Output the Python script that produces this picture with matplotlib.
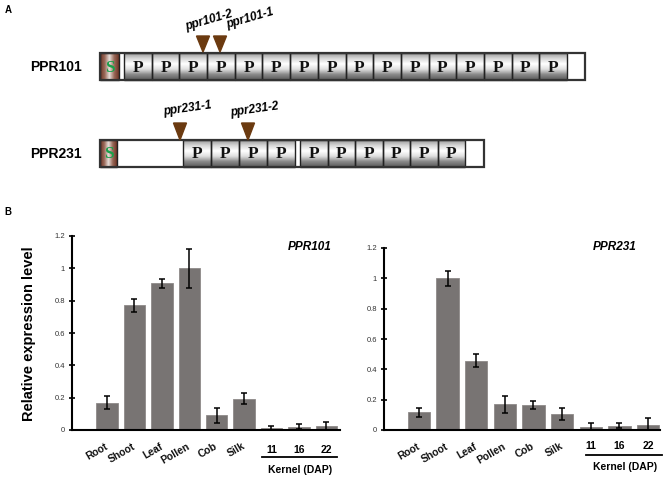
import numpy as np
import matplotlib
matplotlib.use("Agg")
import matplotlib.pyplot as plt
from matplotlib.patches import Rectangle, Polygon
from matplotlib.colors import LinearSegmentedColormap

plt.rcParams['font.family'] = ['Liberation Sans', 'DejaVu Sans']

# ---------------- data ----------------
tissues = ['Root', 'Shoot', 'Leaf', 'Pollen', 'Cob', 'Silk']
kernel_dap = ['11', '16', '22']

ppr101_mean = [0.17, 0.772, 0.909, 1.0, 0.090, 0.194, 0.012, 0.020, 0.026]
ppr101_err = [0.040, 0.040, 0.028, 0.120, 0.045, 0.033, 0.012, 0.015, 0.025]

ppr231_mean = [0.118, 1.0, 0.456, 0.169, 0.165, 0.107, 0.019, 0.028, 0.035]
ppr231_err = [0.030, 0.050, 0.042, 0.057, 0.027, 0.038, 0.024, 0.015, 0.042]

y_ticks = [0, 0.2, 0.4, 0.6, 0.8, 1.0, 1.2]
y_ticklabels = ['0', '0.2', '0.4', '0.6', '0.8', '1', '1.2']

# schematic: number of PPR motifs per block
ppr101_blocks = [16]
ppr231_blocks = [4, 6]
ppr101_alleles = ['ppr101-2', 'ppr101-1']
ppr231_alleles = ['ppr231-1', 'ppr231-2']

# ---------------- figure ----------------
fig = plt.figure(figsize=(6.66, 4.78), dpi=100)
ax0 = fig.add_axes([0, 0, 1, 1])
ax0.axis('off')

p_cmap = LinearSegmentedColormap.from_list('p', ['#9a9a9a', '#d8d8d8', '#ffffff', '#e0e0e0', '#8a8a8a', '#5a5a5a'])
s_cmap = LinearSegmentedColormap.from_list('s', ['#6e3526', '#9a6a5a', '#e8e0dc', '#9a6a5a', '#6e3526'])
vgrad = np.linspace(0, 1, 64).reshape(-1, 1)
hgrad = np.linspace(0, 1, 64).reshape(1, -1)


def pbox(x0, x1, y0, y1):
    ax0.imshow(vgrad, extent=(x0, x1, y1, y0), cmap=p_cmap, aspect='auto', zorder=1, origin='upper')
    ax0.add_patch(Rectangle((x0, y0), x1 - x0, y1 - y0, fill=False, ec='#222222', lw=1.0, zorder=2))
    ax0.text((x0 + x1) / 2, (y0 + y1) / 2 + 1, 'P', family='Liberation Serif', weight='bold',
             fontsize=12.5, ha='center', va='center', color='#111111', zorder=3)


def sbox(x0, x1, y0, y1):
    ax0.imshow(hgrad, extent=(x0, x1, y1, y0), cmap=s_cmap, aspect='auto', zorder=1, origin='upper')
    ax0.add_patch(Rectangle((x0, y0), x1 - x0, y1 - y0, fill=False, ec='#222222', lw=1.0, zorder=2))
    ax0.text((x0 + x1) / 2, (y0 + y1) / 2 + 1, 'S', family='Liberation Serif', weight='bold',
             fontsize=12.5, ha='center', va='center', color='#1aa04a', zorder=3)


def tri(x, ytop, ytip):
    ax0.add_patch(Polygon([(x - 6.5, ytop), (x + 6.5, ytop), (x, ytip)], closed=True,
                          fc='#6b3a10', ec='#6b3a10', zorder=4))


# PPR101
y0, y1 = 53, 80
sbox(100, 119, y0, y1)
start, end = 124, 567
n = ppr101_blocks[0]
w = (end - start) / n
for i in range(n):
    pbox(start + i * w, start + (i + 1) * w, y0, y1)
ax0.add_patch(Rectangle((100, y0), 585 - 100, y1 - y0, fill=False, ec='#333333', lw=1.6, zorder=2.5))
ax0.text(56, 67, 'PPR101', fontsize=10, weight='bold', ha='center', va='center')
tri(203, 36, 52)
tri(220, 36, 52)
ax0.text(209, 21, ppr101_alleles[0], fontsize=8.5, weight='bold', style='italic', rotation=16,
         ha='center', va='center')
ax0.text(250, 19, ppr101_alleles[1], fontsize=8.5, weight='bold', style='italic', rotation=16,
         ha='center', va='center')

# PPR231
y0, y1 = 140, 167
sbox(100, 117, y0, y1)
segs = [(183, 295), (300, 465)]
for (a, b), n in zip(segs, ppr231_blocks):
    w = (b - a) / n
    for i in range(n):
        pbox(a + i * w, a + (i + 1) * w, y0, y1)
ax0.add_patch(Rectangle((100, y0), 484 - 100, y1 - y0, fill=False, ec='#333333', lw=1.6, zorder=2.5))
ax0.text(56, 154, 'PPR231', fontsize=10, weight='bold', ha='center', va='center')
tri(180, 123, 140)
tri(248, 123, 140)
ax0.text(188, 109, ppr231_alleles[0], fontsize=8.5, weight='bold', style='italic', rotation=8,
         ha='center', va='center')
ax0.text(255, 110, ppr231_alleles[1], fontsize=8.5, weight='bold', style='italic', rotation=8,
         ha='center', va='center')

ax0.text(8, 10, 'A', fontsize=7, weight='bold', ha='center', va='center')
ax0.text(8, 212, 'B', fontsize=7, weight='bold', ha='center', va='center')

# ---------------- bar charts ----------------
bar_color = '#787473'


def make(rect, means, errs, xlim, num_off_px):
    ax = fig.add_axes(rect)
    ax.patch.set_visible(False)
    x = np.arange(len(means))
    ax.bar(x, means, width=0.78, color=bar_color, edgecolor='#8e8a89', lw=0.6, zorder=2)
    ax.errorbar(x, means, yerr=errs, fmt='none', ecolor='black', elinewidth=1.1, capsize=2.2,
                capthick=1.1, zorder=3)
    ax.set_xlim(*xlim)
    ax.set_ylim(0, 1.2)
    ax.set_yticks(y_ticks)
    ax.set_yticklabels(y_ticklabels, fontsize=5.5, color='#333333')
    ax.tick_params(axis='y', direction='inout', length=4, width=1.2, pad=3)
    ax.set_xticks(range(len(tissues)))
    ax.set_xticklabels(tissues, rotation=30, ha='right', va='center', rotation_mode='anchor',
                       fontsize=7.5, weight='bold', color='#111111')
    ax.tick_params(axis='x', length=0, pad=11)
    for s in ['top', 'right']:
        ax.spines[s].set_visible(False)
    for s in ['left', 'bottom']:
        ax.spines[s].set_linewidth(1.5)
    for i, lab in enumerate(kernel_dap):
        ax.annotate(lab, xy=(len(tissues) + i, 0), xycoords=('data', 'axes fraction'),
                    xytext=(0, -num_off_px * 72 / 100), textcoords='offset points',
                    ha='center', va='center', fontsize=7.5, weight='bold', annotation_clip=False)
    return ax


axL = make([72 / 666, 1 - 430 / 478, (340 - 72) / 666, (430 - 236) / 478],
           ppr101_mean, ppr101_err, (-1.28, 8.5), 20)
axR = make([384 / 666, 1 - 430 / 478, (660 - 384) / 666, (430 - 248) / 478],
           ppr231_mean, ppr231_err, (-1.22, 8.42), 16)

# underline + "Kernel (DAP)"
ax0.plot([262, 337], [457, 457], color='black', lw=1.3, zorder=5)
ax0.text(300, 470, 'Kernel (DAP)', fontsize=7.5, weight='bold', ha='center', va='center')
ax0.plot([586, 662], [455, 455], color='black', lw=1.3, zorder=5)
ax0.text(625, 467, 'Kernel (DAP)', fontsize=7.5, weight='bold', ha='center', va='center')

# titles
ax0.text(310, 247, 'PPR101', fontsize=8.5, weight='bold', style='italic', ha='center', va='center')
ax0.text(615, 247, 'PPR231', fontsize=8.5, weight='bold', style='italic', ha='center', va='center')

# y label
ax0.text(29, 334, 'Relative expression level', fontsize=10.5, weight='bold', rotation=90,
         ha='center', va='center')

ax0.set_xlim(0, 666)
ax0.set_ylim(478, 0)

fig.savefig('out.png', dpi=100, facecolor='white')
